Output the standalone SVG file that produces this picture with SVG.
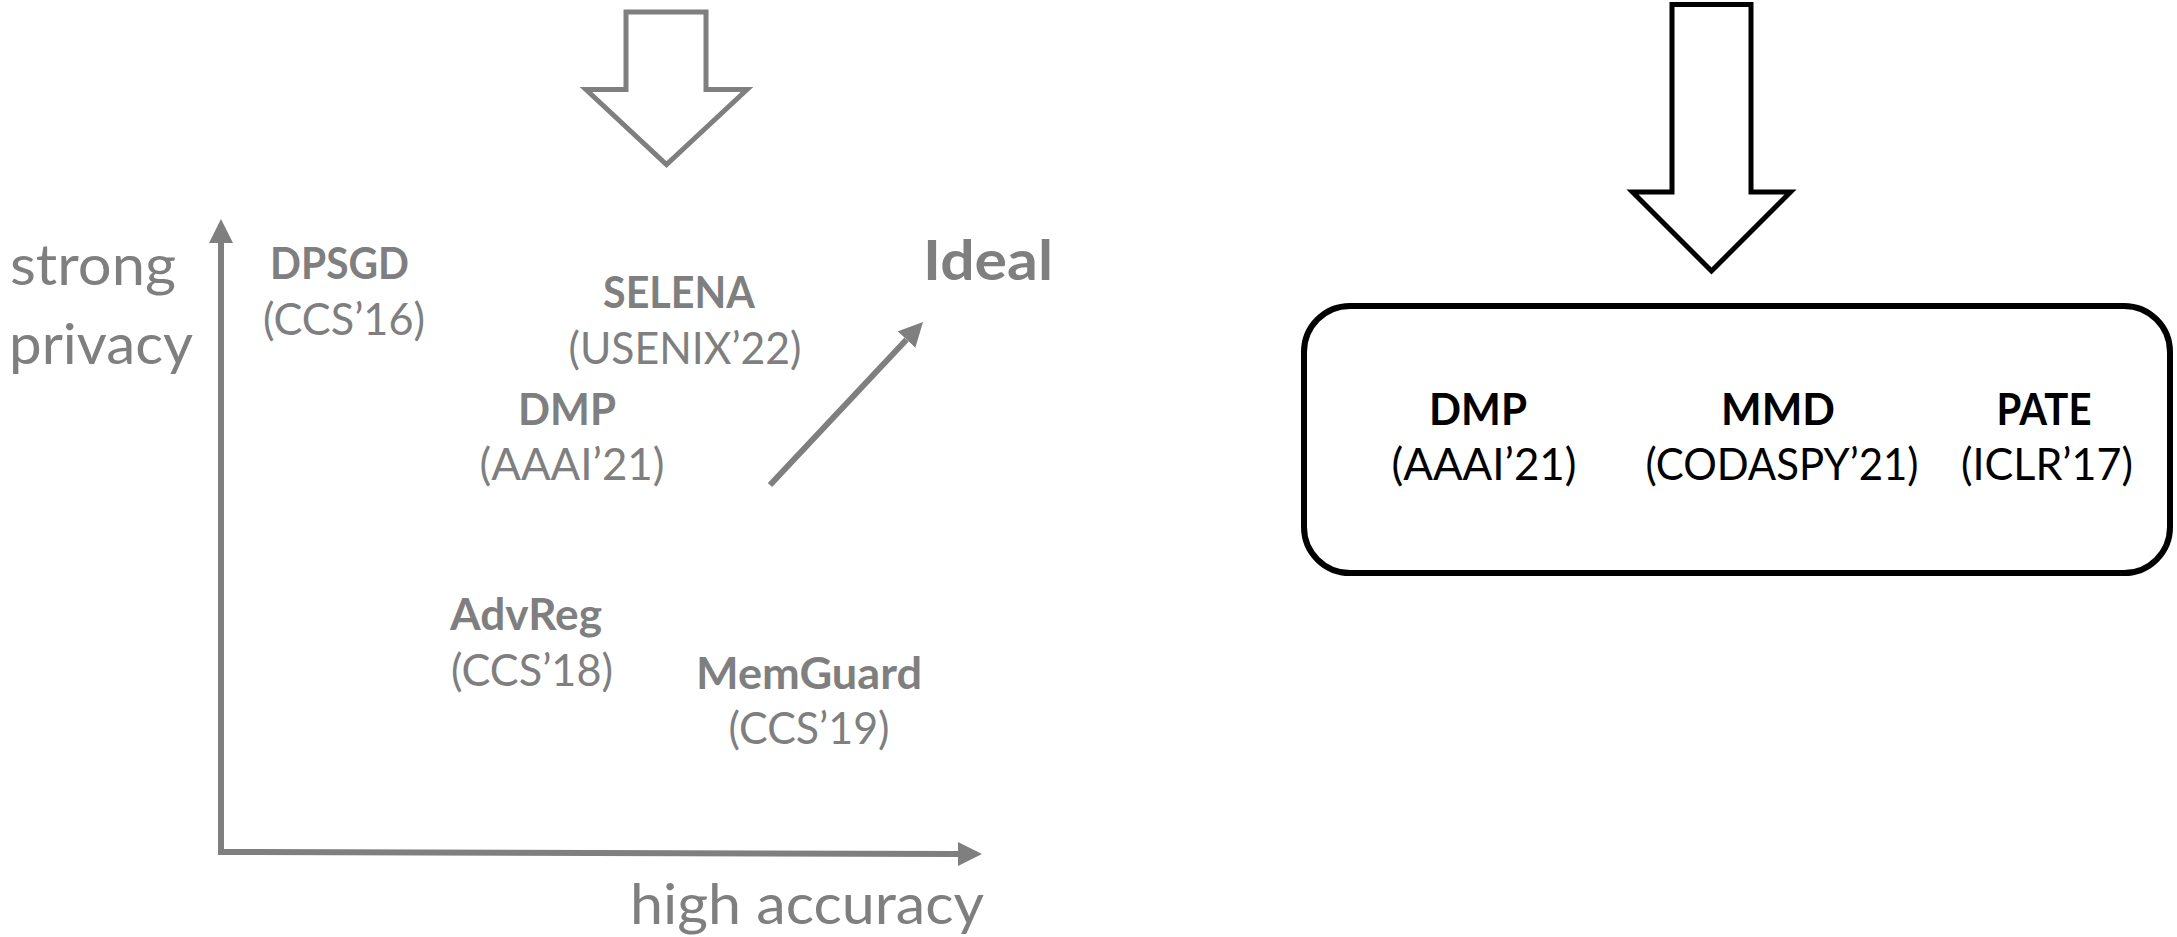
<svg xmlns="http://www.w3.org/2000/svg" width="2177" height="937" viewBox="0 0 2177 937">
  <style>
    text { font-family: Lato, "Liberation Sans", sans-serif; }
    .g { fill: #7f7f7f; }
    .k { fill: #000000; }
    .name { font-weight: bold; font-size: 43.5px; text-anchor: middle; }
    .venue { font-weight: normal; font-size: 43.5px; text-anchor: middle; }
    .axis { font-size: 56px; }
    .ideal { font-size: 56px; font-weight: bold; }
    .axisline { fill: none; stroke: #7f7f7f; stroke-width: 6; stroke-linejoin: miter; }
    .block { stroke-width: 5; stroke-linejoin: miter; stroke-miterlimit: 10; fill: #ffffff; }
  </style>
  <defs>
    <marker id="head" viewBox="0 0 24 24" refX="0" refY="12" markerWidth="24" markerHeight="24" markerUnits="userSpaceOnUse" orient="auto-start-reverse">
      <path d="M0,0 L24,12 L0,24 z" fill="#7f7f7f"/>
    </marker>
  </defs>

  <rect width="2177" height="937" fill="#ffffff"/>

  <!-- block arrows -->
  <g id="arrow-left">
    <polygon class="block" stroke="#7f7f7f" points="626,12 706,12 706,89.5 747,89.5 666.5,164.5 586,89.5 626,89.5"/>
  </g>
  <g id="arrow-right">
    <polygon class="block" stroke="#000000" stroke-width="5.5" points="1672,4.5 1751,4.5 1751,192 1790.5,192 1711.5,271 1632.5,192 1672,192"/>
  </g>

  <!-- axes and trend arrow -->
  <g id="connectors">
    <path class="axisline" d="M221,243 L221,852 L958,854" marker-start="url(#head)" marker-end="url(#head)"/>
    <path class="axisline" d="M770,485 L906.6,339.5" marker-end="url(#head)"/>
  </g>

  <!-- axis labels -->
  <g id="axis-y">
    <text class="g axis" x="10" y="285" textLength="166" lengthAdjust="spacingAndGlyphs">strong</text>
    <text class="g axis" x="9" y="364" textLength="184" lengthAdjust="spacingAndGlyphs">privacy</text>
  </g>
  <g id="axis-x">
    <text class="g axis" x="630" y="924" textLength="354" lengthAdjust="spacingAndGlyphs">high accuracy</text>
  </g>
  <g id="ideal">
    <text class="g ideal" x="923" y="280" textLength="130" lengthAdjust="spacingAndGlyphs">Ideal</text>
  </g>

  <!-- methods on the trade-off plot -->
  <g id="dpsgd">
    <text class="g name" x="339.5" y="279" textLength="139" lengthAdjust="spacingAndGlyphs">DPSGD</text>
    <text class="g venue" x="344" y="335" textLength="162" lengthAdjust="spacingAndGlyphs">(CCS’16)</text>
  </g>
  <g id="selena">
    <text class="g name" x="679" y="308" textLength="152" lengthAdjust="spacingAndGlyphs">SELENA</text>
    <text class="g venue" x="685" y="364" textLength="233" lengthAdjust="spacingAndGlyphs">(USENIX’22)</text>
  </g>
  <g id="dmp-plot">
    <text class="g name" x="567" y="425" textLength="98" lengthAdjust="spacingAndGlyphs">DMP</text>
    <text class="g venue" x="572" y="480" textLength="185" lengthAdjust="spacingAndGlyphs">(AAAI’21)</text>
  </g>
  <g id="advreg">
    <text class="g name" x="526" y="630" textLength="152" lengthAdjust="spacingAndGlyphs">AdvReg</text>
    <text class="g venue" x="532" y="686" textLength="162" lengthAdjust="spacingAndGlyphs">(CCS’18)</text>
  </g>
  <g id="memguard">
    <text class="g name" x="809" y="689" textLength="226" lengthAdjust="spacingAndGlyphs">MemGuard</text>
    <text class="g venue" x="809" y="744" textLength="161" lengthAdjust="spacingAndGlyphs">(CCS’19)</text>
  </g>

  <!-- selected methods box -->
  <g id="selected">
    <rect x="1304" y="306" width="866" height="267" rx="46" ry="46" fill="#ffffff" stroke="#000000" stroke-width="6"/>
    <g id="dmp-box">
      <text class="k name" x="1478" y="425" textLength="98" lengthAdjust="spacingAndGlyphs">DMP</text>
      <text class="k venue" x="1484" y="480" textLength="185" lengthAdjust="spacingAndGlyphs">(AAAI’21)</text>
    </g>
    <g id="mmd">
      <text class="k name" x="1778" y="425" textLength="114" lengthAdjust="spacingAndGlyphs">MMD</text>
      <text class="k venue" x="1782" y="480" textLength="273" lengthAdjust="spacingAndGlyphs">(CODASPY’21)</text>
    </g>
    <g id="pate">
      <text class="k name" x="2044" y="425" textLength="95" lengthAdjust="spacingAndGlyphs">PATE</text>
      <text class="k venue" x="2047" y="480" textLength="172" lengthAdjust="spacingAndGlyphs">(ICLR’17)</text>
    </g>
  </g>
</svg>
